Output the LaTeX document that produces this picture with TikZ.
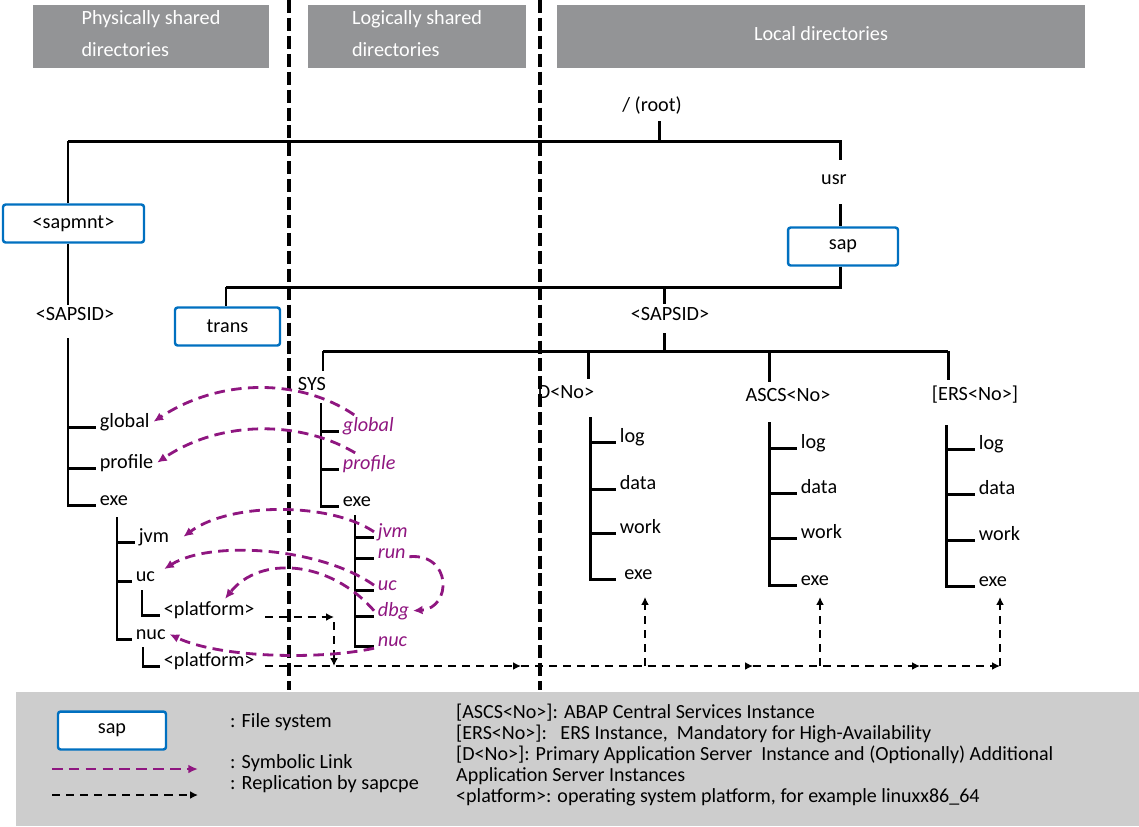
\documentclass[tikz,border=0pt]{standalone}
\usepackage{fontspec}
\setmainfont{Carlito}
\usetikzlibrary{arrows.meta, positioning}
\definecolor{hdrGray}{RGB}{147,148,150}
\definecolor{fsBlue}{RGB}{0,112,192}
\definecolor{linkPurple}{RGB}{143,22,128}
\definecolor{legendGray}{RGB}{205,205,205}

\begin{document}
\begin{tikzpicture}[x=0.02cm, y=-0.02cm,
  font=\fontsize{11.5}{14}\selectfont,
  hdr/.style={fill=hdrGray, text=white, minimum height=1.26cm, inner ysep=0pt,
    text depth=3.5pt, align=left, font=\fontsize{11.5}{18.7}\selectfont},
  fsbox/.style={draw=fsBlue, line width=1.4pt, rounded corners=1.5pt, fill=white,
    minimum height=0.76cm},
  child/.style={anchor=base west, inner xsep=2pt, inner ysep=1pt},
  link/.style={child, text=linkPurple, font=\fontsize{11.5}{14}\selectfont\itshape},
  tree/.style={line width=1.7pt},
  divider/.style={line width=2pt, dash pattern=on 7.4pt off 2.8pt},
  symlink/.style={draw=linkPurple, line width=1.6pt, dash pattern=on 6pt off 3.6pt,
    -{Latex[length=5.5pt, width=5pt]}},
  repl/.style={line width=1.6pt, dash pattern=on 4.6pt off 3.4pt,
    -{Latex[length=4.5pt, width=4.5pt]}},
]
\useasboundingbox (0,0) rectangle (1139,826);

% headers
\node[hdr, minimum width=4.72cm] (hdrPhys) at (151,36.5) {Physically shared\\directories};
\node[hdr, minimum width=4.36cm] (hdrLog) at (417,36.5) {Logically shared\\directories};
\node[hdr, minimum width=10.56cm] (hdrLocal) at (821,36.5) {Local directories};

% dividers
\draw[divider] (289,0) -- (289,690);
\draw[divider] (540,0) -- (540,690);

% root, usr, sap
\node (root) at (652,106) {/ (root)};
\coordinate (rootJ) at (659,141);
\coordinate (leftJ) at (68,141);
\coordinate (usrJ) at (840,141);
\draw[tree] (root.south -| rootJ) -- (rootJ);
\draw[tree] (leftJ) -- (usrJ) -- (840,160);
\node (usr) at (834,180) {usr};
\node[fsbox, minimum width=2.2cm] (sap) at (843,246.5) {sap};
\draw[tree] (840,204) -- (usrJ |- sap.north);
\coordinate (sapJ) at (840,287);
\coordinate (transJ) at (226,287);
\draw[tree] (usrJ |- sap.south) -- (sapJ) -- (transJ);
\node[fsbox, minimum width=2.1cm] (trans) at (227.5,326.5) {trans};
\draw[tree] (transJ) -- (transJ |- trans.north);

% local <SAPSID> and instances
\coordinate (sidRJ) at (664,287);
\node (sidR) at (670,314) {<SAPSID>};
\draw[tree] (sidRJ) -- (664,304);
\coordinate (instJ) at (664,351);
\draw[tree] (664,333) -- (instJ);
\coordinate (instL) at (323,351);
\coordinate (instR) at (948,351);
\draw[tree] (instL) -- (instR);
\node (sys) at (312,384) {SYS};
\draw[tree] (instL) -- (instL |- sys.north);
\node (dNo) at (566,392) {D<No>};
\coordinate (dJ) at (588,351);
\draw[tree] (dJ) -- (dJ |- dNo.north);
\node (ascs) at (788,395) {ASCS<No>};
\coordinate (aJ) at (769,351);
\draw[tree] (aJ) -- (aJ |- ascs.north);
\node (ers) at (975,395) {[ERS<No>]};
\draw[tree] (instR) -- (instR |- ers.north);

% physically shared: <sapmnt>
\node[fsbox, minimum width=2.82cm] (sapmnt) at (73.5,223.5) {<sapmnt>};
\draw[tree] (leftJ) -- (leftJ |- sapmnt.north);
\node (sidL) at (75,314) {<SAPSID>};
\draw[tree] (leftJ |- sapmnt.south) -- (68,305);
\coordinate (lSp) at (68,338);
\node[child] (lGlobal) at (96,427) {global};
\node[child] (lProfile) at (96,468) {profile};
\node[child] (lExe) at (96,505) {exe};
\draw[tree] (lSp) |- (lExe.base west);
\foreach \n in {lGlobal,lProfile}
  \draw[tree] (lSp |- \n.base west) -- (\n.base west);
\coordinate (lExeSp) at (117,517);
\node[child] (lJvm) at (135,542) {jvm};
\node[child] (lUc) at (132,581) {uc};
\node[child] (lNuc) at (132,639) {nuc};
\draw[tree] (lExeSp) |- (lNuc.base west);
\foreach \n in {lJvm,lUc}
  \draw[tree] (lExeSp |- \n.base west) -- (\n.base west);
\coordinate (lUcSp) at (142,590);
\node[child] (lUcPf) at (160,615) {<platform>};
\draw[tree] (lUcSp) |- (lUcPf.base west);
\coordinate (lNucSp) at (143,647);
\node[child] (lNucPf) at (160,666) {<platform>};
\draw[tree] (lNucSp) |- (lNucPf.base west);

% logically shared: SYS
\coordinate (sSp) at (321,403);
\node[link] (sGlobal) at (339,431) {global};
\node[link] (sProfile) at (339,469) {profile};
\node[child] (sExe) at (339,506) {exe};
\draw[tree] (sSp) |- (sExe.base west);
\foreach \n in {sGlobal,sProfile}
  \draw[tree] (sSp |- \n.base west) -- (\n.base west);
\coordinate (sExeSp) at (355,515);
\node[link] (sJvm) at (374,537) {jvm};
\node[link] (sRun) at (374,558) {run};
\node[link] (sUc) at (374,590) {uc};
\node[link] (sDbg) at (374,616) {dbg};
\node[link] (sNuc) at (374,646) {nuc};
\draw[tree] (sExeSp) |- (sNuc.base west);
\foreach \n in {sJvm,sRun,sUc,sDbg}
  \draw[tree] (sExeSp |- \n.base west) -- (\n.base west);

% local: D<No>
\coordinate (dSp) at (590,417);
\node[child] (dLog) at (616,442) {log};
\node[child] (dData) at (616,489) {data};
\node[child] (dWork) at (616,533) {work};
\node[child] (dExe) at (616,579) {\ exe};
\draw[tree] (dSp) |- (dExe.base west);
\foreach \n in {dLog,dData,dWork}
  \draw[tree] (dSp |- \n.base west) -- (\n.base west);

% local: ASCS<No>
\coordinate (aSp) at (769,422);
\node[child] (aLog) at (797,448) {log};
\node[child] (aData) at (797,493) {data};
\node[child] (aWork) at (797,538) {work};
\node[child] (aExe) at (797,585) {exe};
\draw[tree] (aSp) |- (aExe.base west);
\foreach \n in {aLog,aData,aWork}
  \draw[tree] (aSp |- \n.base west) -- (\n.base west);

% local: [ERS<No>]
\coordinate (eSp) at (946,425);
\node[child] (eLog) at (975,449) {log};
\node[child] (eData) at (975,494) {data};
\node[child] (eWork) at (975,540) {work};
\node[child] (eExe) at (975,586) {exe};
\draw[tree] (eSp) |- (eExe.base west);
\foreach \n in {eLog,eData,eWork}
  \draw[tree] (eSp |- \n.base west) -- (\n.base west);

% replication by sapcpe
\coordinate (replJ) at (334,617);
\coordinate (replL) at (334,666);
\draw[repl, shorten <=4pt] (lUcPf.east |- replJ) -- (replJ);
\draw[repl, shorten <=3pt] (replJ) -- (replL);
\coordinate (rA) at (521,666);
\coordinate (rB) at (753,666);
\coordinate (rC) at (920,666);
\coordinate (rD) at (1000,666);
\draw[repl, shorten <=4pt] (lNucPf.east |- rA) -- (rA);
\draw[repl] (rA) -- (rB);
\draw[repl] (rB) -- (rC);
\draw[repl] (rC) -- (rD);
\foreach \x in {645,820,1000}
  \draw[repl] (\x,666) -- (\x,597);

% symbolic links
\draw[symlink] ([xshift=-8pt]sGlobal.north) .. controls (300,378) and (220,378) .. (lGlobal.east);
\draw[symlink] ([xshift=-8pt]sProfile.north) .. controls (300,420) and (220,420) .. (lProfile.east);
\draw[symlink] (sJvm.west) .. controls (330,502) and (230,502) .. ([xshift=6pt]lJvm.east);
\draw[symlink] (sUc.west) .. controls (320,547) and (210,540) .. ([xshift=3pt]lUc.north east);
\draw[symlink] (sDbg.west) .. controls (330,560) and (260,555) .. ([xshift=9pt]lUcPf.north);
\draw[symlink] (sNuc.south west) .. controls (320,660) and (220,658) .. (lNuc.east);
\draw[symlink] ([yshift=-2pt]sRun.east) .. controls (452,553) and (452,608) .. (sDbg.east);

% legend
\node[fill=legendGray, minimum width=22.46cm, minimum height=2.68cm, inner sep=0pt,
  anchor=north west] (legend) at (16,692) {};
\node[fsbox, minimum width=2.16cm] (legSap) at (112,730.5) {sap};
\node[anchor=west] (legFs) at (224,722) {: File system};
\node[anchor=west] (legSym) at (224,763) {: Symbolic Link};
\node[anchor=west] (legRep) at (224,784) {: Replication by sapcpe};
\coordinate (symA) at (52,769);
\coordinate (symB) at (198,769);
\draw[symlink] (symA) -- (symB);
\coordinate (repA) at (52,795);
\coordinate (repB) at (198,795);
\draw[repl] (repA) -- (repB);
\node[anchor=west, align=left, font=\fontsize{11.4}{11.9}\selectfont] (legTxt) at (450,755)
  {[ASCS<No>]: ABAP Central Services Instance\\{}[ERS<No>]:\ \ \ ERS Instance,\ \ Mandatory for High-Availability\\{}[D<No>]: Primary Application Server\ \ Instance and (Optionally) Additional\\Application Server Instances\\<platform>: operating system platform, for example linuxx86\_64};
\end{tikzpicture}
\end{document}
